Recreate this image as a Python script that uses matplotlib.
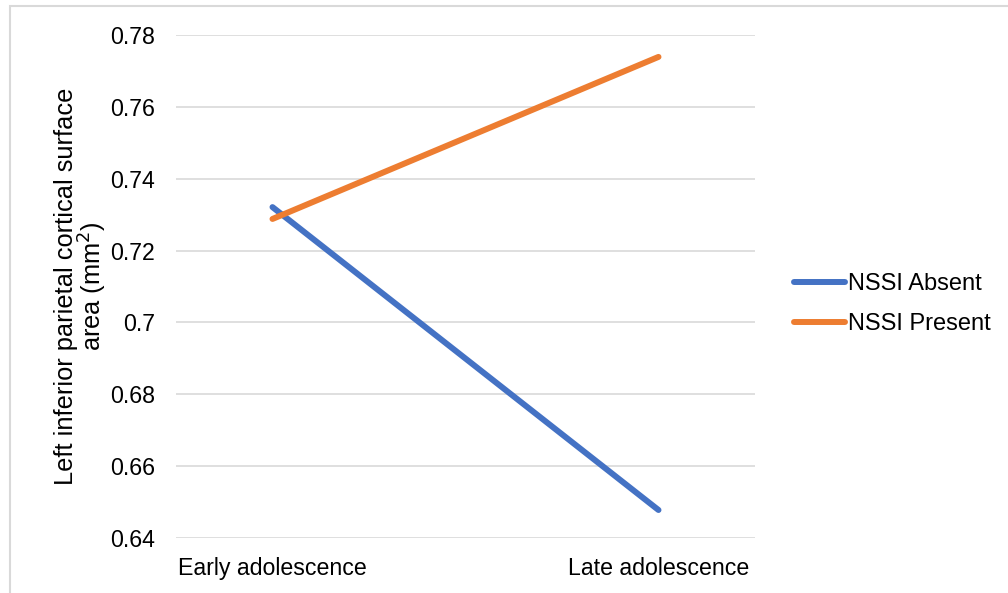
import matplotlib.pyplot as plt
from matplotlib.patches import Rectangle

plt.rcParams['font.family'] = ['Liberation Sans', 'DejaVu Sans']

# Mean surface area at each stage, per group
stages = ['Early adolescence', 'Late adolescence']
nssi_absent = [0.7321, 0.6478]
nssi_present = [0.7288, 0.7739]
yticks = [0.64, 0.66, 0.68, 0.70, 0.72, 0.74, 0.76, 0.78]
ytick_labels = ['0.64', '0.66', '0.68', '0.7', '0.72', '0.74', '0.76', '0.78']

fig = plt.figure(figsize=(10.08, 5.93), dpi=100, facecolor='white')
ax = fig.add_axes([0.1746, 0.0927, 0.5744, 0.8483])

x = list(range(len(stages)))
ax.plot(x, nssi_absent, color='#4472C4', lw=4.3, solid_capstyle='round',
        label='NSSI Absent')
ax.plot(x, nssi_present, color='#ED7D31', lw=4.3, solid_capstyle='round',
        label='NSSI Present')

ax.set_xlim(-0.25, 1.25)
ax.set_ylim(0.64, 0.78)
ax.set_yticks(yticks)
ax.set_yticklabels(ytick_labels)
ax.set_xticks(x)
ax.set_xticklabels(stages)
ax.tick_params(axis='both', length=0, labelsize=16.7, colors='black')
ax.tick_params(axis='y', pad=15)
ax.tick_params(axis='x', pad=14)
ax.grid(axis='y', color='#d9d9d9', lw=1.2)
ax.set_axisbelow(True)
for s in ax.spines.values():
    s.set_visible(False)

ax.set_ylabel('Left inferior parietal cortical surface\narea (mm$^2$)',
              fontsize=18.3, labelpad=1, linespacing=0.95)

ax.legend(loc='center left', bbox_to_anchor=(0.767, 0.4874),
          bbox_transform=fig.transFigure, frameon=False, fontsize=17,
          handlelength=2.15, handletextpad=0.1, labelspacing=0.75)

# light frame round the chart area
fig.patches.append(Rectangle((10 / 1008, -0.1), 1.2, 1.0 - 6 / 593 + 0.1,
                             transform=fig.transFigure, fill=False,
                             edgecolor='#d9d9d9', lw=1.5))

fig.savefig('out.png', dpi=100, facecolor='white')
